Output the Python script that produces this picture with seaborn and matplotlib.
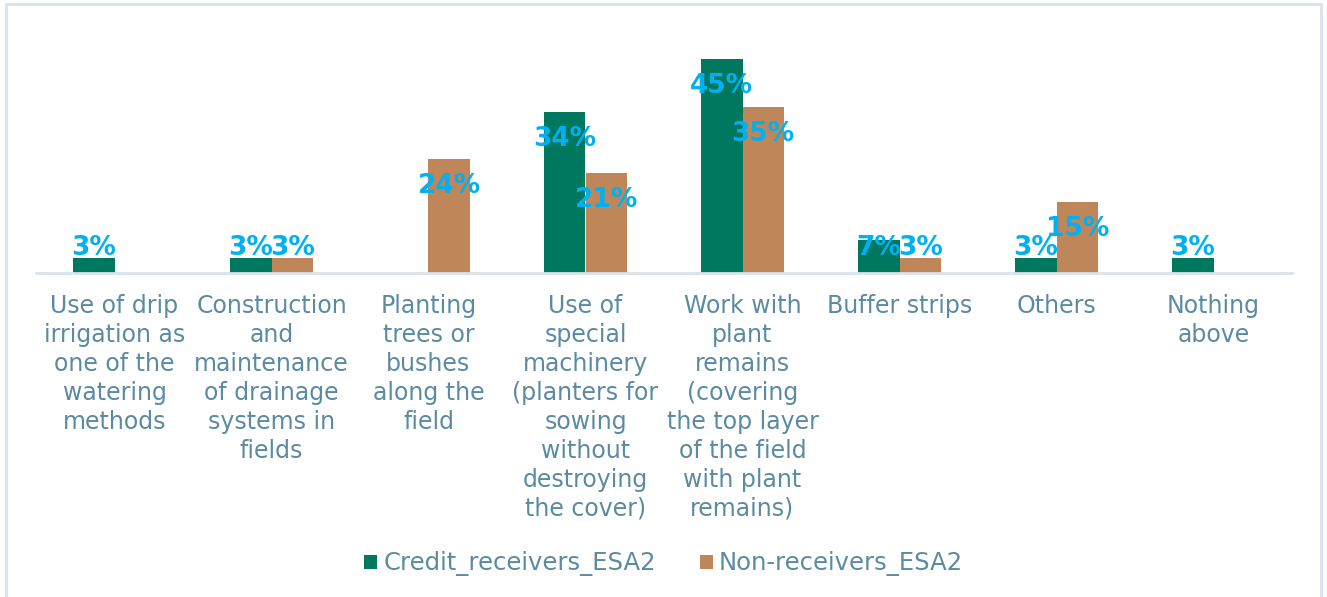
import matplotlib
matplotlib.use("Agg")
import matplotlib.pyplot as plt
from matplotlib.patches import Rectangle, Patch
import seaborn as sns
import pandas as pd

categories = [
    "Use of drip\nirrigation as\none of the\nwatering\nmethods",
    "Construction\nand\nmaintenance\nof drainage\nsystems in\nfields",
    "Planting\ntrees or\nbushes\nalong the\nfield",
    "Use of\nspecial\nmachinery\n(planters for\nsowing\nwithout\ndestroying\nthe cover)",
    "Work with\nplant\nremains\n(covering\nthe top layer\nof the field\nwith plant\nremains)",
    "Buffer strips",
    "Others",
    "Nothing\nabove",
]
series_names = ["Credit_receivers_ESA2", "Non-receivers_ESA2"]
credit_receivers = [3, 3, 0, 34, 45, 7, 3, 3]
non_receivers = [0, 3, 24, 21, 35, 3, 15, 0]

colors = ["#00775F", "#BF865A"]
text_color = "#5A8BA2"
label_color = "#00B0F0"
axis_color = "#D9E3EB"

df = pd.DataFrame({
    "category": categories * 2,
    "share": credit_receivers + non_receivers,
    "group": [series_names[0]] * len(categories) + [series_names[1]] * len(categories),
})

sns.set_theme(style="white")
plt.rcParams["font.family"] = ["DejaVu Sans"]

fig = plt.figure(figsize=(13.27, 5.97), dpi=100)
ax = fig.add_axes([36 / 1327, 1 - 272.7 / 597, (1292 - 36) / 1327, 237 / 597])

sns.barplot(
    data=df, x="category", y="share", hue="group",
    order=categories, hue_order=series_names,
    palette=colors, width=0.53, saturation=1, linewidth=0,
    ax=ax, legend=False,
)

ax.set_ylim(0, 50)
ax.set_xlim(-0.5, len(categories) - 0.5)
ax.set_xlabel("")
ax.set_ylabel("")
ax.set_yticks([])
for side in ["top", "right", "left"]:
    ax.spines[side].set_visible(False)
ax.spines["bottom"].set_color(axis_color)
ax.spines["bottom"].set_linewidth(2)
ax.tick_params(axis="x", length=0, pad=15, labelsize=17, labelcolor=text_color)
ax.set_xticks(range(len(categories)))
ax.set_xticklabels(categories, linespacing=1.265)

# value labels: inside the top end of tall bars, lifted above short ones
for container in ax.containers:
    for bar in container:
        h = bar.get_height()
        if h <= 0:
            continue
        y = max(h - 5.7, 5.3)
        ax.text(bar.get_x() + bar.get_width() / 2, y, f"{h:.0f}%",
                ha="center", va="center", fontsize=19, fontweight="bold",
                color=label_color)

handles = [Patch(facecolor=c, edgecolor="none") for c in colors]
fig.legend(handles, series_names, loc="center", bbox_to_anchor=(0.5, 1 - 564 / 597),
           ncol=2, frameon=False, fontsize=17.5, labelcolor=text_color,
           handlelength=0.55, handleheight=0.55, handletextpad=0.25, columnspacing=1.8)

fig.patches.append(Rectangle((6 / 1327, -0.02), (1321 - 6) / 1327, 1.02 - 4 / 597,
                             transform=fig.transFigure, fill=False,
                             edgecolor=axis_color, linewidth=2))

fig.savefig("out.png", dpi=100)
